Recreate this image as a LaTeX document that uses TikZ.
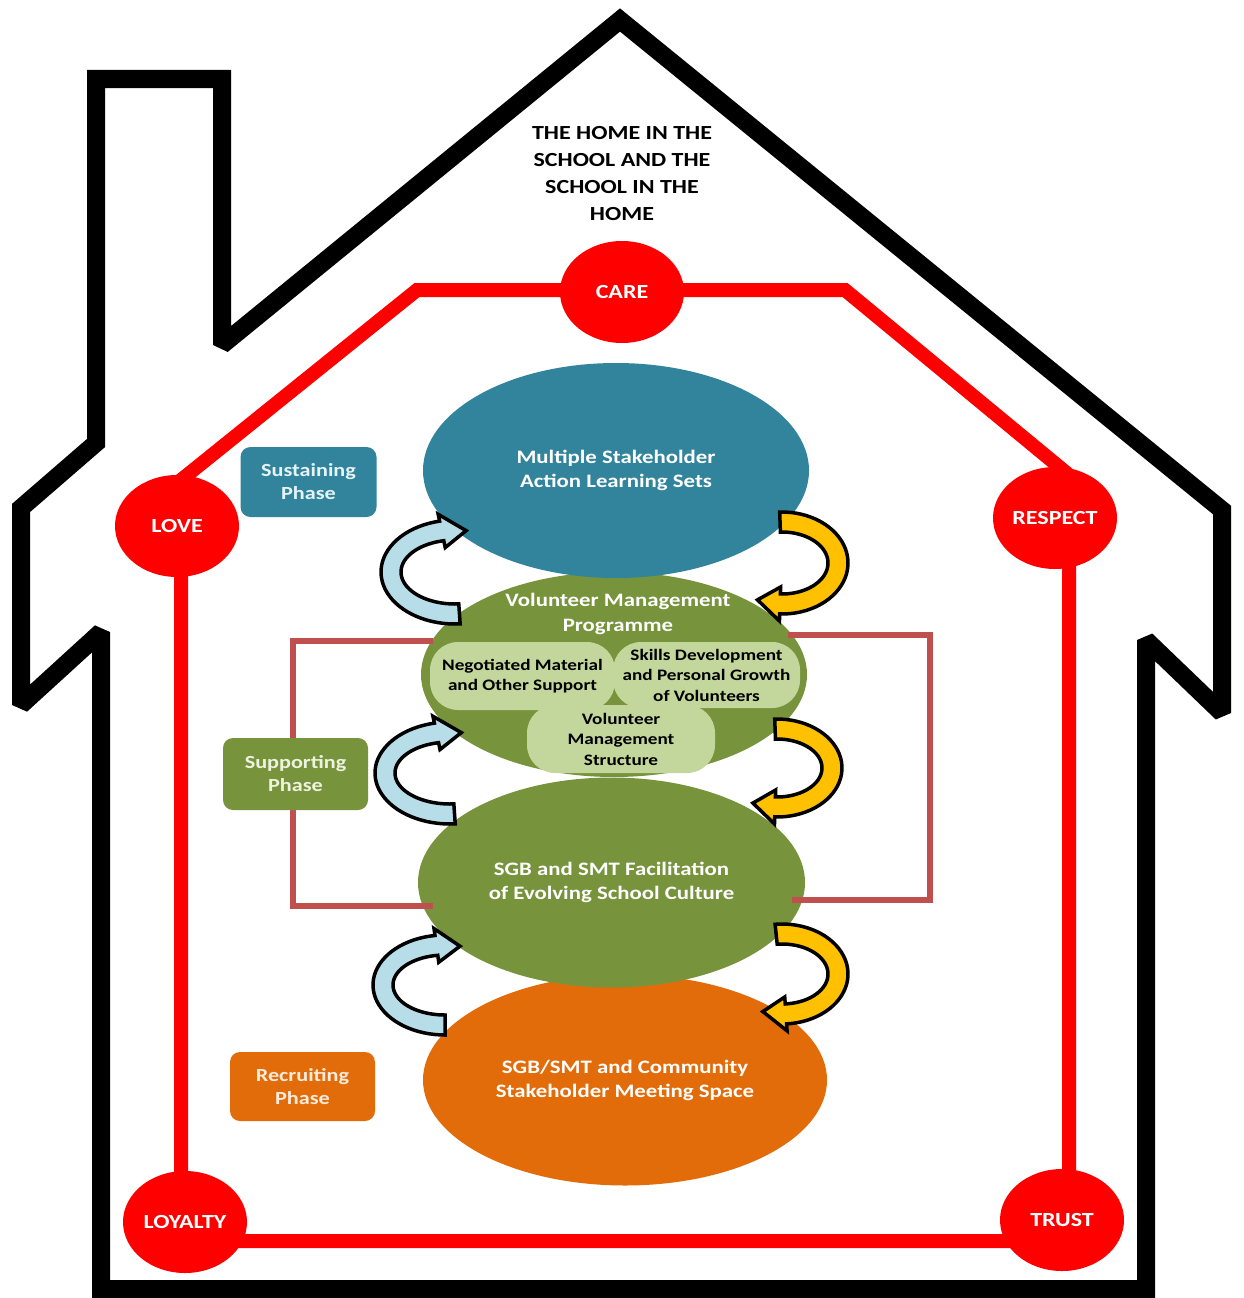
\documentclass[tikz,border=0pt]{standalone}
\usepackage{fontspec}
\setmainfont{Carlito}[FakeStretch=1.2]
\usetikzlibrary{shapes.geometric}
\definecolor{tealc}{HTML}{31849B}
\definecolor{grn}{HTML}{77933C}
\definecolor{lgrn}{HTML}{C3D69B}
\definecolor{orng}{HTML}{E36C0A}
\definecolor{redc}{HTML}{FF0000}
\definecolor{brk}{HTML}{C0504D}
\definecolor{lblue}{HTML}{B7DEE8}
\definecolor{goldc}{HTML}{FFC000}
\definecolor{paleteal}{HTML}{E6F3F6}
\definecolor{palegrn}{HTML}{EEF3DF}
\definecolor{paleorng}{HTML}{FDEBDD}
\tikzset{
 house/.style={line width=18pt, line join=miter, miter limit=2},
 ring/.style={line width=14pt, draw=redc, line join=miter},
 virtue/.style={ellipse, fill=redc, minimum width=124pt, minimum height=102pt, inner sep=0pt, text=white, font=\fontsize{20}{24}\selectfont\bfseries},
 stage/.style={ellipse, inner sep=0pt, text=white, align=center, font=\fontsize{19}{24}\selectfont\bfseries},
 sub/.style={rounded corners=28pt, fill=lgrn, inner sep=0pt, align=center, text=black, font=\fontsize{16}{20.5}\selectfont\bfseries},
 phase/.style={rounded corners=10pt, inner sep=0pt, align=center, font=\fontsize{18.5}{23}\selectfont\bfseries},
 bracket/.style={draw=brk, line width=6pt},
 titletext/.style={align=center, inner sep=0pt, font=\fontsize{20}{27}\selectfont\bfseries},
 labeltext/.style={align=center, inner sep=0pt, text=white, font=\fontsize{19}{25}\selectfont\bfseries}
}
% cx cy A B tail-angle head-angle tip-angle colour
\newcommand\bentarrow[8]{%
 \filldraw[fill=#8, draw=black, line width=3.5pt, line join=miter]
  plot[domain=#5:#6, samples=40] ({#1+(#3+10)*cos(\x)},{#2+(#4+10)*sin(\x)})
  -- ({#1+(#3+17)*cos(#6)},{#2+(#4+17)*sin(#6)})
  -- ({#1+#3*cos(#7)},{#2+#4*sin(#7)})
  -- ({#1+(#3-17)*cos(#6)},{#2+(#4-17)*sin(#6)})
  -- ({#1+(#3-10)*cos(#6)},{#2+(#4-10)*sin(#6)})
  -- plot[domain=#6:#5, samples=40] ({#1+(#3-10)*cos(\x)},{#2+(#4-10)*sin(\x)})
  -- cycle;}
\begin{document}
\begin{tikzpicture}[x=1pt,y=-1pt]
\useasboundingbox (0,0) rectangle (1243,1298);
\fill[white] (0,0) rectangle (1243,1298);

% house outline
\draw[house] (101,1289) -- (101,632) -- (21,705) -- (21,508) -- (96,443) -- (96,79)
  -- (222,79) -- (222,345) -- (620,20) -- (1222,510) -- (1222,713) -- (1146,640)
  -- (1146,1289) -- cycle;

% red ring of values
\draw[ring] (181,1241) -- (181,480) -- (417,290) -- (845,290) -- (1069,475) -- (1069,1241) -- cycle;
\node[virtue] (care) at (622,292) {CARE};
\node[virtue] (love) at (177,526) {LOVE};
\node[virtue] (respect) at (1055,518) {RESPECT};
\node[virtue] (loyalty) at (185,1222) {LOYALTY};
\node[virtue] (trust) at (1062,1220) {TRUST};

% title
\node[titletext] (title) at (622,174) {THE HOME IN THE\\SCHOOL AND THE\\SCHOOL IN THE\\HOME};

% stage ellipses
\node[stage, fill=orng, minimum width=404pt, minimum height=211pt] (space) at (625,1080)
  {SGB/SMT and Community\\Stakeholder Meeting Space};
\node[stage, fill=grn, minimum width=387pt, minimum height=210pt] (sgb) at (611.5,882.5)
  {SGB and SMT Facilitation\\of Evolving School Culture};
\node[stage, fill=grn, minimum width=386pt, minimum height=205pt] (vmp) at (614,674.5) {};
\node[stage, fill=tealc, minimum width=386pt, minimum height=215pt] (mss) at (616,470.5)
  {Multiple Stakeholder\\Action Learning Sets};
\node[labeltext] (vmptitle) at (618,613.5) {Volunteer Management\\Programme};

% brackets
\coordinate (lb1) at (433,641); \coordinate (lb2) at (293,641);
\coordinate (lb3) at (293,906); \coordinate (lb4) at (433,906);
\coordinate (rb1) at (788,635); \coordinate (rb2) at (930,635);
\coordinate (rb3) at (930,900); \coordinate (rb4) at (792,900);
\draw[bracket] (lb1) -- (lb2) -- (lb3) -- (lb4);
\draw[bracket] (rb1) -- (rb2) -- (rb3) -- (rb4);

% sub-components of the programme
\node[sub, minimum width=185pt, minimum height=68pt] (neg) at (522.5,676)
  {Negotiated Material\\and Other Support};
\node[sub, minimum width=187pt, minimum height=66pt] (skills) at (706.5,675)
  {Skills Development\\and Personal Growth\\of Volunteers};
\node[sub, minimum width=188pt, minimum height=68pt] (vms) at (621,739)
  {Volunteer\\Management\\Structure};

% phase labels
\node[phase, fill=tealc, text=paleteal, minimum width=136pt, minimum height=70pt] (sust) at (308.5,482)
  {Sustaining\\Phase};
\node[phase, fill=grn, text=palegrn, minimum width=145pt, minimum height=72pt] (supp) at (295.5,774)
  {Supporting\\Phase};
\node[phase, fill=orng, text=paleorng, minimum width=145pt, minimum height=69pt] (recr) at (302.5,1086.5)
  {Recruiting\\Phase};

% curved block arrows
\bentarrow{455}{572}{64}{42}{86}{258}{280}{lblue}
\bentarrow{450}{773}{65}{41}{86}{258}{280}{lblue}
\bentarrow{445}{985}{62}{40}{90}{262}{284}{lblue}
\bentarrow{782}{563}{56}{41}{268}{452}{476}{goldc}
\bentarrow{777}{768}{55}{39}{268}{452}{476}{goldc}
\bentarrow{782}{974}{56}{40}{264}{446}{470}{goldc}
\end{tikzpicture}
\end{document}
